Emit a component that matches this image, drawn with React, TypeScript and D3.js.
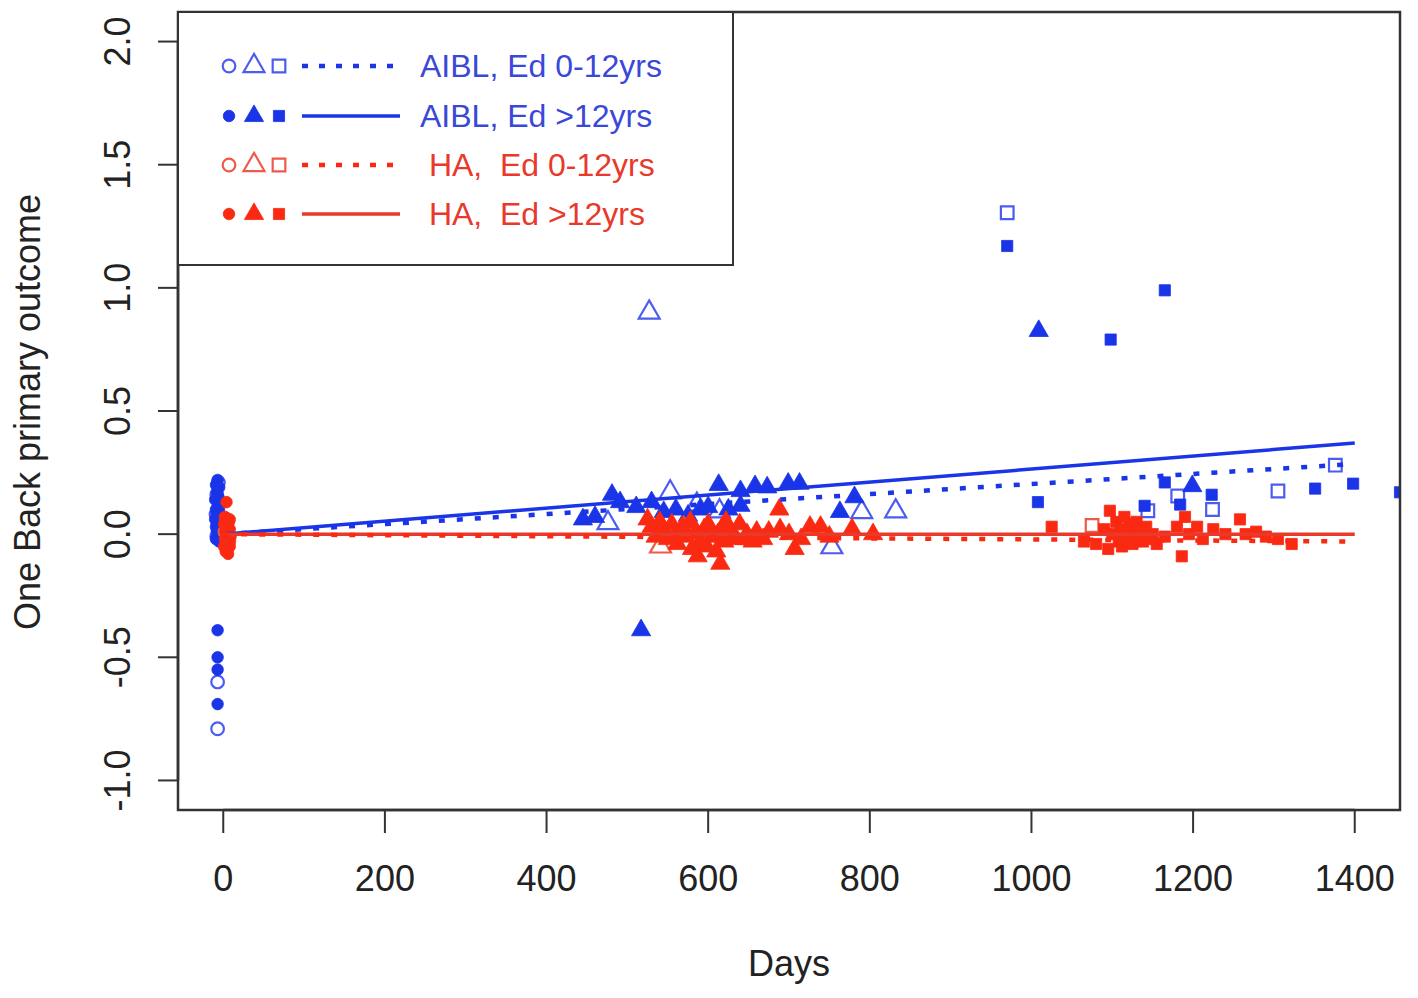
import React from 'react';
import * as d3 from 'd3';

const W = 1418;
const H = 998;
const plot = { left: 178, right: 1400, top: 12, bottom: 810 };

// axis ticks
const xTicks = [0, 200, 400, 600, 800, 1000, 1200, 1400];
const yTicks = [-1, -0.5, 0, 0.5, 1, 1.5, 2];
const yTickLabels = ['-1.0', '-0.5', '0.0', '0.5', '1.0', '1.5', '2.0'];

// [day, outcome, visit]  visit 1 = circle, 2 = triangle, 3 = square
type Pt = [number, number, number];

const aiblLowEd: Pt[] = [
  [-6, 0.21, 1], [-8, 0.16, 1], [-5, 0.12, 1], [-9, 0.08, 1], [-7, 0.05, 1], [-6, 0.02, 1],
  [-8, -0.01, 1], [-7, -0.6, 1], [-7, -0.79, 1],
  [476, 0.045, 2], [527, 0.9, 2], [553, 0.17, 2], [586, 0.12, 2], [614, 0.093, 2],
  [753, -0.053, 2], [790, 0.09, 2], [832, 0.093, 2],
  [970, 1.305, 3], [1144, 0.095, 3], [1181, 0.155, 3], [1224, 0.1, 3], [1305, 0.175, 3], [1376, 0.28, 3],
];

const aiblHighEd: Pt[] = [
  [-7, 0.22, 1], [-9, 0.2, 1], [-5, 0.19, 1], [-8, 0.17, 1], [-6, 0.15, 1], [-10, 0.14, 1],
  [-4, 0.13, 1], [-7, 0.11, 1], [-9, 0.1, 1], [-5, 0.09, 1], [-8, 0.08, 1], [-6, 0.07, 1],
  [-10, 0.06, 1], [-4, 0.05, 1], [-7, 0.04, 1], [-9, 0.03, 1], [-5, 0.02, 1], [-8, 0.01, 1],
  [-6, 0.0, 1], [-9, -0.02, 1], [-5, -0.03, 1],
  [-7, -0.39, 1], [-7, -0.5, 1], [-7, -0.55, 1], [-7, -0.69, 1],
  [445, 0.06, 2], [460, 0.07, 2], [481, 0.16, 2], [491, 0.13, 2], [511, 0.11, 2], [517, -0.39, 2],
  [530, 0.13, 2], [545, 0.09, 2], [560, 0.1, 2], [575, 0.075, 2], [590, 0.1, 2], [600, 0.11, 2],
  [613, 0.2, 2], [625, 0.1, 2], [640, 0.175, 2], [640, 0.115, 2], [658, 0.195, 2], [673, 0.19, 2],
  [699, 0.205, 2], [713, 0.205, 2], [763, 0.09, 2], [781, 0.15, 2], [1009, 0.825, 2], [1199, 0.195, 2],
  [970, 1.17, 3], [1098, 0.79, 3], [1165, 0.99, 3], [1008, 0.13, 3], [1140, 0.115, 3], [1165, 0.21, 3],
  [1184, 0.12, 3], [1223, 0.16, 3], [1351, 0.185, 3], [1398, 0.205, 3], [1456, 0.17, 3],
];

const haLowEd: Pt[] = [
  [4, 0.06, 1], [2, 0.01, 1], [7, -0.03, 1],
  [541, -0.05, 2], [570, 0.02, 2],
  [1075, 0.035, 3],
];

const haHighEd: Pt[] = [
  [4, 0.13, 1], [2, 0.07, 1], [7, 0.05, 1], [1, 0.04, 1], [5, 0.03, 1], [8, 0.02, 1], [3, 0.01, 1],
  [6, 0.0, 1], [9, -0.01, 1], [2, -0.02, 1], [7, -0.03, 1], [4, -0.04, 1], [8, -0.05, 1],
  [1, -0.05, 1], [5, -0.06, 1], [3, -0.07, 1], [6, -0.08, 1], [8, 0.06, 1], [2, 0.04, 1],
  [525, 0.06, 2], [530, 0.03, 2], [535, -0.01, 2], [540, 0.05, 2], [545, 0.02, 2], [550, -0.02, 2],
  [555, 0.04, 2], [560, 0.0, 2], [562, -0.04, 2], [568, 0.03, 2], [572, -0.01, 2], [578, 0.05, 2],
  [580, -0.06, 2], [585, 0.01, 2], [587, -0.09, 2], [590, -0.03, 2], [595, 0.02, 2], [598, -0.05, 2],
  [600, 0.04, 2], [605, -0.01, 2], [610, -0.07, 2], [612, 0.0, 2], [615, -0.12, 2], [618, 0.03, 2],
  [620, -0.03, 2], [622, 0.05, 2], [628, 0.01, 2], [635, -0.02, 2], [639, 0.04, 2], [645, -0.02, 2],
  [648, 0.0, 2], [655, -0.03, 2], [660, 0.01, 2], [668, -0.02, 2], [675, 0.01, 2], [688, 0.1, 2],
  [689, 0.02, 2], [700, 0.0, 2], [707, -0.06, 2], [715, -0.02, 2], [726, 0.03, 2], [739, 0.03, 2],
  [750, -0.01, 2], [778, 0.02, 2], [804, 0.0, 2],
  [1025, 0.03, 3], [1065, -0.03, 3], [1080, -0.04, 3], [1090, 0.02, 3], [1095, -0.06, 3],
  [1097, 0.095, 3], [1100, 0.0, 3], [1105, 0.05, 3], [1108, -0.03, 3], [1110, 0.02, 3],
  [1112, -0.05, 3], [1115, 0.07, 3], [1118, 0.01, 3], [1120, -0.02, 3], [1122, 0.04, 3],
  [1125, -0.04, 3], [1128, 0.0, 3], [1130, 0.05, 3], [1133, -0.01, 3], [1135, 0.02, 3],
  [1138, -0.03, 3], [1142, 0.03, 3], [1145, -0.02, 3], [1150, 0.0, 3], [1155, -0.04, 3],
  [1165, -0.01, 3], [1180, 0.03, 3], [1186, -0.09, 3], [1190, 0.07, 3], [1195, 0.0, 3],
  [1205, 0.03, 3], [1212, -0.02, 3], [1225, 0.02, 3], [1240, 0.0, 3], [1258, 0.06, 3],
  [1265, 0.0, 3], [1278, 0.01, 3], [1290, -0.01, 3], [1305, -0.02, 3], [1322, -0.04, 3],
];

// fitted lines: value at day 0 and day 1400
const fitDays = [0, 1400];
const aiblLowFit = [0, 0.285];
const aiblHighFit = [0, 0.37];
const haLowFit = [0, -0.03];
const haHighFit = [0, 0.0];

const legendLabels = ['AIBL, Ed 0-12yrs', 'AIBL, Ed >12yrs', ' HA,  Ed 0-12yrs', ' HA,  Ed >12yrs'];

const BLUE = '#1a34e8';
const BLUE_LIGHT = '#4d5cf0';
const BLUE_TEXT = '#3a48d8';
const RED = '#fa2a12';
const RED_LIGHT = '#ee5a4a';
const RED_TEXT = '#e8392b';
const AXIS = '#333';
const FONT = '"Liberation Sans", Arial, sans-serif';

const shapeOf = (v: number) => (v === 1 ? d3.symbolCircle : v === 2 ? d3.symbolTriangle : d3.symbolSquare);
const filledSize = (v: number) => (v === 1 ? 105 : v === 2 ? 160 : 125);
const openSize = (v: number) => (v === 1 ? 125 : v === 2 ? 190 : 160);

export default function App() {
  const x = d3.scaleLinear().domain([-56, 1456]).range([plot.left, plot.right]);
  const y = d3.scaleLinear().domain([-1.12, 2.12]).range([plot.bottom, plot.top]);

  const sym = (v: number, open: boolean) =>
    d3.symbol().type(shapeOf(v)).size(open ? openSize(v) : filledSize(v))() as string;

  const drawPoints = (pts: Pt[], color: string, open: boolean, key: string) =>
    pts.map((p, i) => (
      <path
        key={key + i}
        d={sym(p[2], open)}
        transform={`translate(${x(p[0])},${y(p[1])})`}
        fill={open ? 'none' : color}
        stroke={color}
        strokeWidth={open ? 2.2 : 0.8}
      />
    ));

  const fit = (vals: number[], color: string, dotted: boolean, key: string) => (
    <line
      key={key}
      x1={x(fitDays[0])}
      y1={y(vals[0])}
      x2={x(fitDays[1])}
      y2={y(vals[1])}
      stroke={color}
      strokeWidth={dotted ? 4.5 : 3.5}
      strokeDasharray={dotted ? '6 12' : undefined}
    />
  );

  const legendRows = [
    { color: BLUE_LIGHT, lineColor: BLUE, text: BLUE_TEXT, open: true, dotted: true },
    { color: BLUE, lineColor: BLUE, text: BLUE_TEXT, open: false, dotted: false },
    { color: RED_LIGHT, lineColor: RED, text: RED_TEXT, open: true, dotted: true },
    { color: RED, lineColor: RED_TEXT, text: RED_TEXT, open: false, dotted: false },
  ];
  const legendY = [66, 116, 165, 214];

  return (
    <div style={{ position: 'absolute', left: 0, top: 0, background: '#fff' }}>
      <svg width={W} height={H} viewBox={`0 0 ${W} ${H}`} style={{ display: 'block', fontFamily: FONT }}>
        <rect x={0} y={0} width={W} height={H} fill="#fff" />
        <defs>
          <clipPath id="plotClip">
            <rect x={plot.left} y={plot.top} width={plot.right - plot.left} height={plot.bottom - plot.top} />
          </clipPath>
        </defs>

        <g clipPath="url(#plotClip)">
          {drawPoints(aiblLowEd, BLUE_LIGHT, true, 'al')}
          {drawPoints(aiblHighEd, BLUE, false, 'ah')}
          {drawPoints(haLowEd, RED_LIGHT, true, 'hl')}
          {drawPoints(haHighEd, RED, false, 'hh')}
          {fit(aiblHighFit, BLUE, false, 'fah')}
          {fit(aiblLowFit, BLUE, true, 'fal')}
          {fit(haHighFit, RED_TEXT, false, 'fhh')}
          {fit(haLowFit, RED, true, 'fhl')}
        </g>

        {/* plot box */}
        <rect
          x={plot.left}
          y={plot.top}
          width={plot.right - plot.left}
          height={plot.bottom - plot.top}
          fill="none"
          stroke={AXIS}
          strokeWidth={2.5}
        />

        {/* x axis */}
        <line x1={x(xTicks[0])} x2={x(xTicks[xTicks.length - 1])} y1={plot.bottom} y2={plot.bottom} stroke={AXIS} strokeWidth={2.5} />
        {xTicks.map((t) => (
          <g key={'xt' + t}>
            <line x1={x(t)} x2={x(t)} y1={plot.bottom} y2={plot.bottom + 23} stroke={AXIS} strokeWidth={2} />
            <text x={x(t)} y={891} textAnchor="middle" fontSize={36} fill="#222">
              {t}
            </text>
          </g>
        ))}
        <text x={789} y={976} textAnchor="middle" fontSize={36} fill="#222">
          Days
        </text>

        {/* y axis */}
        <line x1={plot.left} x2={plot.left} y1={y(yTicks[0])} y2={y(yTicks[yTicks.length - 1])} stroke={AXIS} strokeWidth={2.5} />
        {yTicks.map((t, i) => (
          <g key={'yt' + t}>
            <line x1={plot.left - 20} x2={plot.left} y1={y(t)} y2={y(t)} stroke={AXIS} strokeWidth={2} />
            <text
              transform={`translate(130,${y(t)}) rotate(-90)`}
              textAnchor="middle"
              fontSize={36}
              fill="#222"
            >
              {yTickLabels[i]}
            </text>
          </g>
        ))}
        <text transform={`translate(40,412) rotate(-90)`} textAnchor="middle" fontSize={36} fill="#222">
          One Back primary outcome
        </text>

        {/* legend */}
        <rect x={plot.left} y={plot.top} width={555} height={253} fill="#fff" stroke={AXIS} strokeWidth={2} />
        {legendRows.map((r, i) => (
          <g key={'lg' + i}>
            {[1, 2, 3].map((v, j) => (
              <path
                key={j}
                d={sym(v, r.open)}
                transform={`translate(${229 + j * 25},${legendY[i]})`}
                fill={r.open ? 'none' : r.color}
                stroke={r.color}
                strokeWidth={r.open ? 2.2 : 0.8}
              />
            ))}
            <line
              x1={302}
              x2={400}
              y1={legendY[i]}
              y2={legendY[i]}
              stroke={r.lineColor}
              strokeWidth={r.dotted ? 4.5 : 3.5}
              strokeDasharray={r.dotted ? '6 11' : undefined}
            />
            <text x={420} y={legendY[i] + 11} fontSize={32} fill={r.text} style={{ whiteSpace: 'pre' }}>
              {legendLabels[i]}
            </text>
          </g>
        ))}
      </svg>
    </div>
  );
}
